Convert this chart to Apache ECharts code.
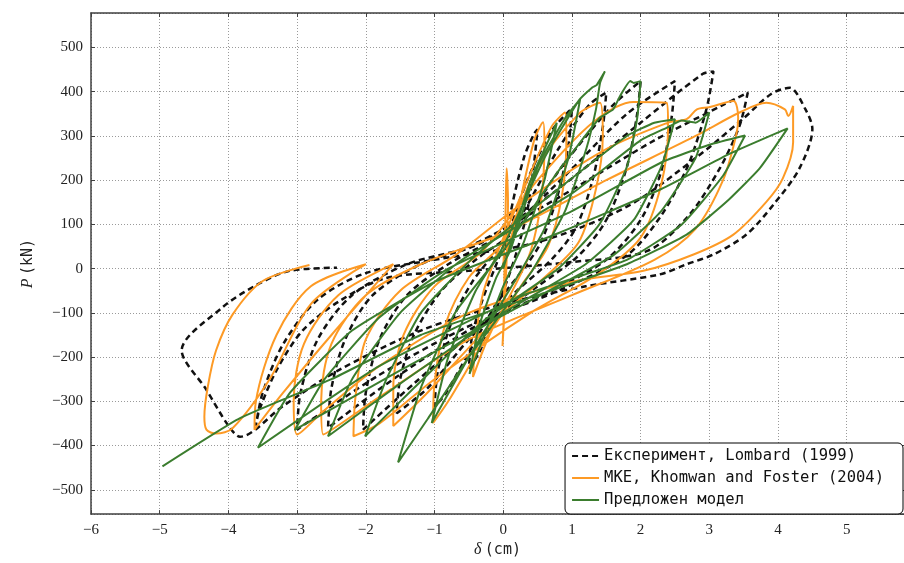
<!DOCTYPE html>
<html>
<head>
<meta charset="utf-8">
<script src="https://cdn.jsdelivr.net/npm/echarts@6/dist/echarts.min.js"></script>
<style>
html,body{margin:0;padding:0;background:#fff;}
#chart{width:904px;height:563px;}
</style>
</head>
<body>
<div id="chart"></div>
<script>
// Series names
const seriesNames = ['Експеримент, Lombard (1999)', 'MKE, Khomwan and Foster (2004)', 'Предложен модел'];

// Experiment (Lombard 1999): [delta (cm), P (kN)]
const experiment = [
[0,0],[0.1,120],[0.3,250],[0.45,305],[0.5,315],[0.45,240],[0.35,130],[0.2,40],[0.05,-30],[-0.15,-110],[-0.35,-190],[-0.5,-225],[-0.45,-150],[-0.3,-70],[-0.1,10],
[0.1,90],[0.35,200],[0.7,310],[0.95,355],[1.0,360],[0.95,280],[0.8,170],[0.55,60],[0.3,0],[-0.1,-80],[-0.5,-190],[-0.85,-285],[-1.0,-312],[-0.95,-230],[-0.75,-120],[-0.45,-30],[-0.1,40],
[0.3,130],[0.8,270],[1.25,370],[1.5,398],[1.45,320],[1.3,200],[1.05,90],[0.7,20],[0.2,-50],[-0.5,-160],[-1.1,-270],[-1.55,-327],[-1.5,-250],[-1.3,-150],[-0.9,-50],[-0.4,20],
[0.2,90],[0.9,240],[1.6,370],[2.0,424],[1.95,350],[1.8,230],[1.5,110],[1.1,30],[0.5,-40],[-0.4,-140],[-1.3,-260],[-2.04,-364],[-2.0,-280],[-1.8,-160],[-1.4,-60],[-0.8,10],
[0,80],[0.9,210],[1.8,350],[2.5,424],[2.45,340],[2.3,220],[2.0,110],[1.5,20],[0.7,-50],[-0.4,-130],[-1.6,-250],[-2.55,-360],[-2.5,-270],[-2.3,-160],[-1.9,-60],[-1.2,10],
[-0.3,60],[0.8,180],[2.0,330],[2.9,440],[3.06,446],[2.98,375],[2.86,308],[2.67,226],[2.3,120],[1.8,30],[0.8,-50],[-0.5,-130],[-1.8,-240],[-3.0,-364],[-2.95,-280],[-2.7,-160],[-2.2,-60],[-1.4,10],
[-0.5,50],[0.8,160],[2.2,290],[3.2,370],[3.56,398],[3.44,323],[3.15,226],[2.7,120],[2.1,40],[1.0,15],[-0.5,-5],[-1.7,-21],[-2.38,-73],[-2.92,-140],[-3.3,-230],[-3.55,-320],[-3.6,-355],[-3.5,-280],[-3.2,-170],[-2.7,-70],[-2.0,-10],
[-1.0,20],[0.5,60],[1.8,140],[2.8,250],[3.5,340],[3.9,395],[4.17,409],[4.4,360],[4.5,316],[4.31,226],[3.93,144],[3.54,77],[3.06,32],[2.67,10],[2.28,-13],[1.2,-40],[0,-80],[-1.2,-140],[-2.4,-230],[-3.2,-310],[-3.83,-380],[-4.0,-355],[-4.32,-274],[-4.68,-185],[-4.09,-88],[-3.59,-37],[-3.11,-5],[-2.42,2]
];

// FEM (Khomwan and Foster 2004)
const fem = [
[0,0],[0.03,100],[0.05,227],[0.07,150],[0.05,20],[0.02,-90],[-0.01,-175],[0.01,-100],[0.02,0],
[0.2,120],[0.45,290],[0.58,331],[0.6,280],[0.55,150],[0.4,40],[0.2,-30],[-0.2,-150],[-0.44,-245],[-0.4,-160],[-0.3,-60],[-0.1,30],
[0.3,180],[0.7,320],[0.9,353],[0.92,290],[0.85,160],[0.65,50],[0.3,-30],[-0.3,-170],[-0.8,-300],[-1.02,-349],[-1.0,-260],[-0.85,-130],[-0.5,-20],[0,60],
[0.5,230],[1.1,350],[1.41,375],[1.45,300],[1.35,180],[1.1,60],[0.6,-20],[-0.2,-130],[-1.1,-280],[-1.6,-356],[-1.6,-270],[-1.45,-150],[-1.0,-40],[-0.3,40],
[0.5,200],[1.3,330],[1.9,377],[2.38,375],[2.4,320],[2.3,190],[2.0,70],[1.4,-10],[0.4,-100],[-1.0,-250],[-1.8,-350],[-2.18,-379],[-2.15,-290],[-2.0,-160],[-1.5,-50],[-0.7,30],
[0.3,150],[1.5,270],[2.4,330],[2.67,338],[2.82,360],[3.0,365],[3.35,379],[3.42,340],[3.39,301],[3.2,200],[2.8,90],[2.2,20],[1.0,-60],[-0.5,-160],[-1.8,-290],[-2.62,-375],[-2.65,-300],[-2.5,-170],[-2.0,-60],[-1.2,10],
[0,80],[1.5,200],[2.8,300],[3.44,353],[3.83,375],[4.1,360],[4.15,345],[4.22,368],[4.22,286],[4.07,204],[3.83,151],[3.35,77],[2.77,32],[2.04,-5],[1.0,-30],[-0.5,-100],[-1.8,-220],[-2.6,-320],[-3.0,-375],[-3.05,-300],[-2.9,-170],[-2.4,-60],[-1.6,10],
[-2.5,-150],[-3.2,-280],[-3.62,-364],[-3.6,-300],[-3.3,-150],[-2.8,-40],[-2.0,10],
[-2.8,-80],[-3.4,-250],[-3.94,-361],[-4.18,-373],[-4.32,-364],[-4.35,-335],[-4.3,-267],[-4.18,-185],[-3.94,-104],[-3.5,-28],[-2.82,8]
];

// Proposed model
const model = [
[0,0],[0.4,200],[0.78,330],[0.6,200],[0.3,60],[0,-40],[-0.3,-160],[-0.49,-238],[-0.35,-130],[-0.1,-20],[0.1,40],
[0.5,230],[0.9,340],[1.12,383],[0.95,250],[0.6,90],[0.2,-20],[-0.5,-200],[-1.04,-349],[-0.8,-200],[-0.4,-50],[0,50],
[0.6,250],[1.1,380],[1.3,410],[1.36,415],[1.42,430],[1.48,446],[1.41,420],[1.35,360],[1.21,271],[0.9,130],[0.4,-10],[-0.5,-200],[-1.1,-340],[-1.53,-438],[-1.2,-270],[-0.7,-100],[0,40],
[0.8,220],[1.4,340],[1.6,360],[1.7,390],[1.85,424],[1.9,420],[2.0,424],[1.95,340],[1.8,230],[1.4,100],[0.8,0],[-0.3,-120],[-1.3,-270],[-2.01,-379],[-1.7,-250],[-1.2,-100],[-0.4,30],
[0.8,180],[1.8,300],[2.2,330],[2.5,338],[2.3,230],[1.9,110],[1.2,10],[0,-100],[-1.5,-260],[-2.55,-379],[-2.2,-250],[-1.5,-100],[-0.6,20],
[1.0,170],[2.0,290],[2.4,320],[2.6,335],[2.8,330],[3.0,353],[2.8,250],[2.3,130],[1.6,30],[0.3,-80],[-1.5,-230],[-3.03,-364],[-2.6,-250],[-1.8,-110],[-0.8,0],
[1.0,130],[2.3,240],[3.0,280],[3.52,301],[3.2,210],[2.6,100],[1.8,20],[0.3,-60],[-1.8,-220],[-3.57,-405],[-3.1,-280],[-2.2,-140],[-1.0,-30],
[0.8,80],[2.3,180],[3.3,260],[4.14,317],[3.73,226],[3.25,151],[2.67,77],[1.8,10],[0.5,-60],[-1.2,-150],[-2.5,-250],[-3.83,-338],[-4.96,-447]
];

const xRange = [-6, 5.834];
const yRange = [-555, 578];

const serifFont = 'Liberation Serif';
const monoFont = 'DejaVu Sans Mono';
const minusFmt = v => (v < 0 ? '\u2212' : '') + Math.abs(v);
const spine = { show: true, onZero: false, lineStyle: { color: '#404040', width: 1.5 } };
const tickIn = { show: true, inside: true, length: 4, lineStyle: { color: '#404040', width: 1 } };
const gridLine = { show: true, lineStyle: { color: '#9a9a9a', width: 1, type: [1, 2] } };

const chart = echarts.init(document.getElementById('chart'), null, { renderer: 'canvas' });
chart.setOption({
  animation: false,
  backgroundColor: '#fff',
  grid: { left: 91, right: 0, top: 13, bottom: 45 },
  xAxis: [
    {
      type: 'value', min: xRange[0], max: xRange[1], minInterval: 1, maxInterval: 1, splitNumber: 12,
      position: 'bottom', axisLine: spine, axisTick: tickIn, splitLine: gridLine,
      axisLabel: { formatter: minusFmt, fontFamily: serifFont, fontSize: 15, color: '#222', margin: 8, showMaxLabel: false },
      name: '{i|δ} {t|(cm)}', nameLocation: 'middle', nameGap: 25,
      nameTextStyle: { rich: {
        i: { fontFamily: serifFont, fontStyle: 'italic', fontSize: 16, color: '#222' },
        t: { fontFamily: monoFont, fontSize: 15, color: '#222' } } }
    },
    {
      type: 'value', min: xRange[0], max: xRange[1], minInterval: 1, maxInterval: 1, splitNumber: 12,
      position: 'top', axisLine: spine, axisTick: tickIn, splitLine: { show: false }, axisLabel: { show: false }
    }
  ],
  yAxis: [
    {
      type: 'value', min: yRange[0], max: yRange[1], minInterval: 100, maxInterval: 100, splitNumber: 11,
      position: 'left', axisLine: spine, axisTick: tickIn, splitLine: gridLine,
      axisLabel: { formatter: minusFmt, fontFamily: serifFont, fontSize: 15, color: '#222', margin: 8, showMinLabel: false, showMaxLabel: false },
      name: '{i|P} {t|(kN)}', nameLocation: 'middle', nameGap: 55, nameRotate: 90,
      nameTextStyle: { rich: {
        i: { fontFamily: serifFont, fontStyle: 'italic', fontSize: 16, color: '#222' },
        t: { fontFamily: monoFont, fontSize: 15, color: '#222' } } }
    },
    {
      type: 'value', min: yRange[0], max: yRange[1], minInterval: 100, maxInterval: 100, splitNumber: 11,
      position: 'right', axisLine: { show: false, onZero: false }, axisTick: tickIn, splitLine: { show: false }, axisLabel: { show: false }
    }
  ],
  legend: {
    orient: 'vertical', right: 1, bottom: 49,
    itemWidth: 27, itemHeight: 14, itemGap: 6,
    padding: [5, 19, 6, 6],
    backgroundColor: '#fff', borderColor: '#000', borderWidth: 1, borderRadius: 5,
    itemStyle: { opacity: 0 },
    textStyle: { fontFamily: monoFont, fontSize: 15.5, color: '#111' },
    data: seriesNames
  },
  series: [
    {
      name: seriesNames[0], type: 'line', data: experiment, symbol: 'none', smooth: 0.3,
      lineStyle: { color: '#111', width: 2.5, type: [6, 4] }, itemStyle: { color: '#111' }, z: 2
    },
    {
      name: seriesNames[1], type: 'line', data: fem, symbol: 'none', smooth: 0.3,
      lineStyle: { color: '#fd9a25', width: 2 }, itemStyle: { color: '#fd9a25' }, z: 3
    },
    {
      name: seriesNames[2], type: 'line', data: model, symbol: 'none', smooth: 0.15,
      lineStyle: { color: '#3b7d2e', width: 2 }, itemStyle: { color: '#3b7d2e' }, z: 4
    }
  ]
});
</script>
</body>
</html>
